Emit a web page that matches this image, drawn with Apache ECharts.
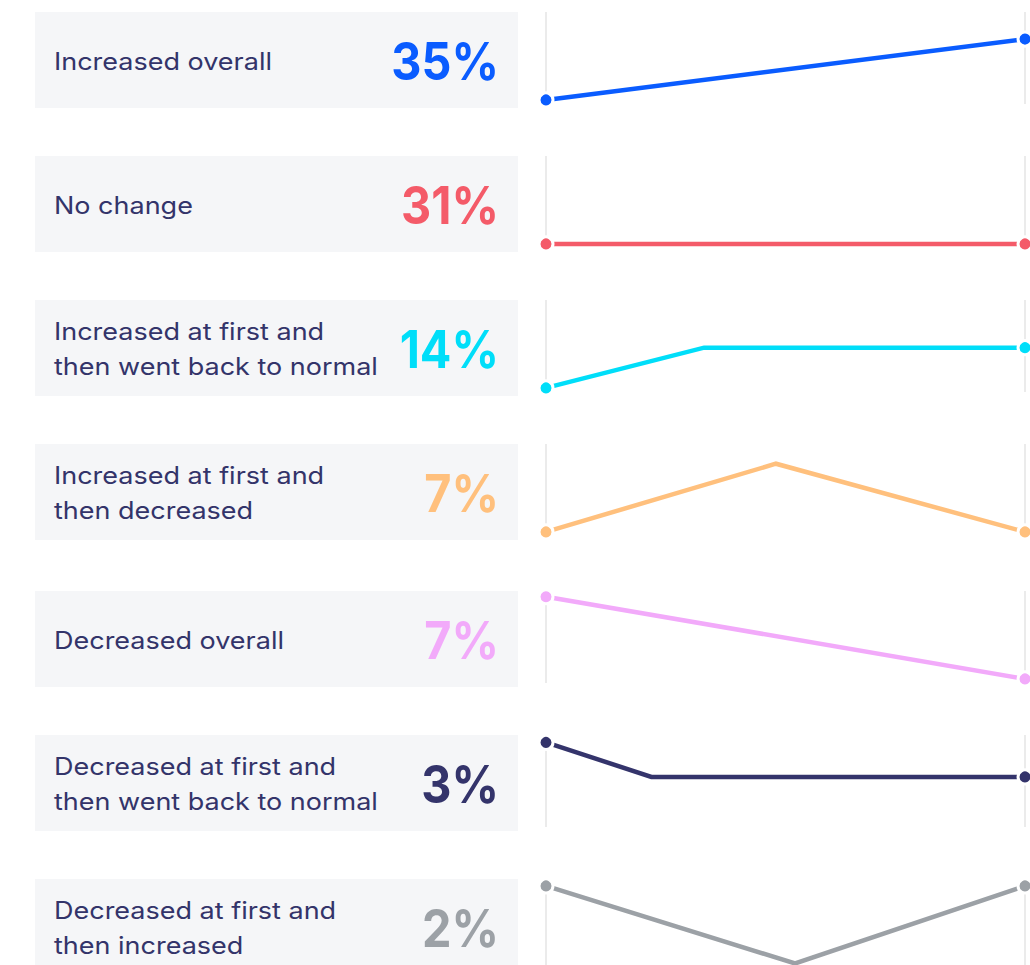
<!DOCTYPE html>
<html>
<head>
<meta charset="utf-8">
<script src="https://cdn.jsdelivr.net/npm/echarts@6/dist/echarts.min.js"></script>
<style>
html,body{margin:0;padding:0;background:#fff;}
#chart{width:1030px;height:965px;}
</style>
</head>
<body>
<div id="chart"></div>
<script>
// ---- data ----
const categories = [
  'Increased overall',
  'No change',
  'Increased at first and\nthen went back to normal',
  'Increased at first and\nthen decreased',
  'Decreased overall',
  'Decreased at first and\nthen went back to normal',
  'Decreased at first and\nthen increased'
];
const shareLabels = ['35%', '31%', '14%', '7%', '7%', '3%', '2%'];
const trendIncreasedOverall = [[0, 0], [100, 74]];
const trendNoChange = [[0, 0], [100, 0]];
const trendIncreasedThenNormal = [[0, 0], [33, 49], [100, 49]];
const trendIncreasedThenDecreased = [[0, 0], [48, 83], [100, 0]];
const trendDecreasedOverall = [[0, 100], [100, 0]];
const trendDecreasedThenNormal = [[0, 98], [22, 56], [100, 56]];
const trendDecreasedThenIncreased = [[0, 98], [52, -3], [100, 98]];
const trends = [trendIncreasedOverall, trendNoChange, trendIncreasedThenNormal,
  trendIncreasedThenDecreased, trendDecreasedOverall, trendDecreasedThenNormal,
  trendDecreasedThenIncreased];

// ---- style ----
const colors = ['#0a5cff', '#f45b69', '#00def9', '#ffc07d', '#f2aafa', '#34346b', '#9ca1a6'];
const rowTops = [12, 156, 300, 444, 591, 735, 879];
const boxH = 96;
const textColor = '#33346a';
const fontFamily = 'Inter, "Noto Sans", sans-serif';

const grids = [], xAxes = [], yAxes = [], series = [], graphics = [];
trends.forEach((d, i) => {
  grids.push({ left: 546, right: 5, top: rowTops[i], height: 92 });
  xAxes.push({
    type: 'value', gridIndex: i, min: 0, max: 100, interval: 100,
    axisLine: { show: false }, axisTick: { show: false }, axisLabel: { show: false },
    splitLine: { show: true, lineStyle: { color: '#ebebeb', width: 2 } }
  });
  yAxes.push({
    type: 'value', gridIndex: i, min: -5, max: 107,
    show: false, splitLine: { show: false }
  });
  const last = d.length - 1;
  series.push({
    type: 'line', xAxisIndex: i, yAxisIndex: i, data: d,
    clip: false, showAllSymbol: true, symbol: 'circle',
    symbolSize: (v, p) => (p.dataIndex === 0 || p.dataIndex === last) ? 14 : 0,
    lineStyle: { color: colors[i], width: 4.5, cap: 'butt', join: 'miter' },
    itemStyle: { color: colors[i], borderColor: '#fff', borderWidth: 3 },
    emphasis: { disabled: true },
    animation: false
  });
  graphics.push({
    type: 'rect', left: 35, top: rowTops[i], silent: true,
    shape: { width: 483, height: boxH }, style: { fill: '#f5f6f8' }
  });
  graphics.push({
    type: 'text', x: 54, y: rowTops[i] + boxH / 2 + 1, silent: true,
    scaleX: 1.125,
    style: {
      text: categories[i], fill: textColor, font: '400 24px ' + fontFamily,
      lineHeight: 35, verticalAlign: 'middle', align: 'left'
    }
  });
  graphics.push({
    type: 'text', x: 499, y: rowTops[i] + boxH / 2 + 1, silent: true,
    scaleX: 0.9,
    style: {
      text: shareLabels[i], fill: colors[i], font: '700 52px ' + fontFamily,
      verticalAlign: 'middle', align: 'right'
    }
  });
});

const chart = echarts.init(document.getElementById('chart'), null, { renderer: 'svg' });
chart.setOption({
  animation: false,
  grid: grids, xAxis: xAxes, yAxis: yAxes, series: series,
  graphic: graphics
});
</script>
</body>
</html>
